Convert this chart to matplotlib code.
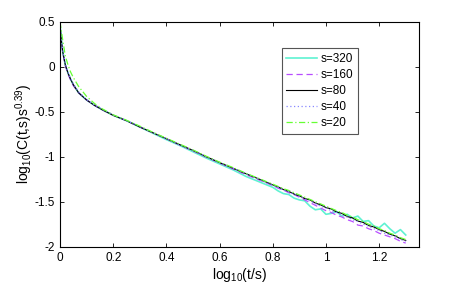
import matplotlib.pyplot as plt
from matplotlib.ticker import FormatStrFormatter

plt.rcParams['font.family'] = ['Liberation Sans', 'DejaVu Sans']
plt.rcParams['mathtext.fontset'] = 'custom'
plt.rcParams['mathtext.rm'] = 'Liberation Sans'
plt.rcParams['mathtext.it'] = 'Liberation Sans'

# log10(t/s) sample points
x = [0, 0.005, 0.01, 0.02, 0.03, 0.04, 0.05, 0.07, 0.1, 0.13, 0.16, 0.2,
     0.25, 0.3, 0.35, 0.4, 0.45, 0.5, 0.55, 0.6, 0.65, 0.7, 0.75,
     0.8, 0.82, 0.84, 0.86, 0.88, 0.9, 0.92, 0.94, 0.96, 0.98, 1.0,
     1.02, 1.04, 1.06, 1.08, 1.1, 1.12, 1.14, 1.16, 1.18, 1.2, 1.22,
     1.24, 1.26, 1.28, 1.3]

s320 = [0.47, 0.30, 0.17, 0.02, -0.07, -0.14, -0.20, -0.29, -0.37, -0.43, -0.48, -0.54,
        -0.60, -0.67, -0.74, -0.81, -0.875, -0.945, -1.015, -1.08, -1.145, -1.22, -1.28,
        -1.34, -1.38, -1.41, -1.42, -1.46, -1.48, -1.49, -1.55, -1.59, -1.58, -1.64,
        -1.63, -1.61, -1.66, -1.64, -1.68, -1.66, -1.72, -1.71, -1.77, -1.79, -1.74,
        -1.80, -1.85, -1.81, -1.87]

s160 = [0.46, 0.29, 0.16, 0.01, -0.08, -0.15, -0.21, -0.29, -0.37, -0.43, -0.48, -0.54,
        -0.60, -0.67, -0.735, -0.80, -0.87, -0.935, -1.005, -1.07, -1.135, -1.20, -1.26,
        -1.32, -1.35, -1.37, -1.40, -1.42, -1.45, -1.48, -1.51, -1.54, -1.57, -1.60,
        -1.62, -1.65, -1.67, -1.70, -1.72, -1.76, -1.77, -1.80, -1.82, -1.85, -1.87,
        -1.89, -1.91, -1.94, -1.96]

s80 = [0.47, 0.30, 0.17, 0.02, -0.07, -0.14, -0.20, -0.29, -0.37, -0.43, -0.48, -0.54,
       -0.60, -0.67, -0.735, -0.80, -0.866, -0.93, -1.00, -1.065, -1.128, -1.19, -1.25,
       -1.313, -1.335, -1.365, -1.385, -1.415, -1.435, -1.465, -1.48, -1.515, -1.535, -1.565,
       -1.58, -1.615, -1.63, -1.665, -1.68, -1.715, -1.73, -1.765, -1.78, -1.81, -1.83,
       -1.86, -1.88, -1.91, -1.93]

s40 = [0.47, 0.31, 0.18, 0.03, -0.06, -0.13, -0.19, -0.28, -0.365, -0.425, -0.475, -0.535,
       -0.60, -0.665, -0.735, -0.80, -0.866, -0.93, -1.00, -1.065, -1.128, -1.19, -1.255,
       -1.32, -1.34, -1.37, -1.39, -1.42, -1.44, -1.47, -1.49, -1.52, -1.55, -1.57,
       -1.60, -1.62, -1.65, -1.67, -1.70, -1.72, -1.75, -1.77, -1.80, -1.82, -1.85,
       -1.87, -1.89, -1.92, -1.94]

s20 = [0.50, 0.40, 0.30, 0.12, 0.02, -0.06, -0.12, -0.22, -0.33, -0.41, -0.47, -0.535,
       -0.595, -0.66, -0.73, -0.795, -0.86, -0.925, -0.995, -1.06, -1.12, -1.185, -1.245,
       -1.305, -1.33, -1.355, -1.375, -1.40, -1.425, -1.45, -1.475, -1.50, -1.525, -1.55,
       -1.575, -1.60, -1.62, -1.65, -1.67, -1.70, -1.72, -1.75, -1.77, -1.80, -1.82,
       -1.85, -1.87, -1.90, -1.92]

fig = plt.figure(figsize=(4.63, 2.86), dpi=100)
ax = fig.add_axes([60 / 463, 1 - 246.7 / 286, 359.3 / 463, 225 / 286])

ax.plot(x, s320, color='#5ff2d2', lw=1.2, label='s=320')
ax.plot(x, s160, color='#b84dff', lw=0.9, ls=(0, (5, 3)), label='s=160')
ax.plot(x, s80, color='black', lw=0.8, label='s=80')
ax.plot(x, s40, color='#8888ff', lw=0.9, ls=(0, (1, 2)), label='s=40')
ax.plot(x, s20, color='#66ff33', lw=0.9, ls=(0, (5, 2, 1, 2)), label='s=20')

ax.set_xlim(0, 1.351)
ax.set_ylim(-2, 0.5)
ax.set_xticks([0, 0.2, 0.4, 0.6, 0.8, 1.0, 1.2])
ax.set_yticks([-2, -1.5, -1, -0.5, 0, 0.5])
ax.xaxis.set_major_formatter(FormatStrFormatter('%g'))
ax.yaxis.set_major_formatter(FormatStrFormatter('%g'))
ax.tick_params(direction='in', top=True, right=True, labelsize=8.5, length=3, width=0.6)
for sp in ax.spines.values():
    sp.set_linewidth(0.8)

ax.set_xlabel(r'log$_{10}$(t/s)', fontsize=10, labelpad=2)
ax.set_ylabel(r'log$_{10}$(C(t,s)s$^{0.39}$)', fontsize=10, labelpad=0)

leg = ax.legend(loc='upper left', bbox_to_anchor=(0.617, 0.882), borderaxespad=0,
                fontsize=8.5, handlelength=2.6, handletextpad=0.3, labelspacing=0.35,
                fancybox=False, framealpha=1, edgecolor='#555555')
leg.get_frame().set_linewidth(0.8)

fig.savefig('out.png', dpi=100)
